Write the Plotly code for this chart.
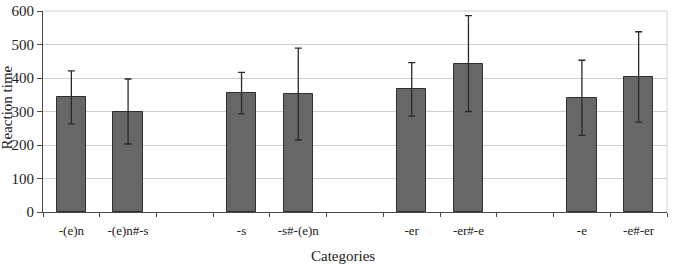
import plotly.graph_objects as go

categories = ["-(e)n", "-(e)n#-s", "", "-s", "-s#-(e)n", "", "-er", "-er#-e", "", "-e", "-e#-er"]
means = [342, 300, None, 355, 352, None, 366, 443, None, 341, 403]
errors = [79, 97, None, 62, 137, None, 80, 143, None, 112, 135]

positions = list(range(len(categories)))
bar_x = [p for p, m in zip(positions, means) if m is not None]
bar_y = [m for m in means if m is not None]
bar_err = [e for e in errors if e is not None]

SERIF = "Liberation Serif, Times New Roman, DejaVu Serif, serif"

fig = go.Figure()
fig.add_trace(go.Bar(
    x=bar_x, y=bar_y, width=0.52,
    marker=dict(color="#676767", line=dict(color="#2e2e2e", width=1)),
    error_y=dict(type="data", array=bar_err, visible=True,
                 color="#2a2a2a", thickness=1.3, width=3.5),
    showlegend=False,
))

fig.update_layout(
    width=681, height=264,
    margin=dict(l=43, r=14, t=3, b=52),
    plot_bgcolor="white", paper_bgcolor="white",
    font=dict(family=SERIF, color="#222222"),
    bargap=0,
    xaxis=dict(
        range=[-0.5, len(categories) - 0.5],
        tickmode="array", tickvals=positions, ticktext=categories,
        ticks="", showgrid=False, zeroline=False,
        showline=True, linecolor="#4a4a4a", linewidth=1,
        tickfont=dict(family=SERIF, size=13, color="#222222"),
        ticklabelstandoff=6,
        minor=dict(tick0=-0.5, dtick=1, ticks="outside", ticklen=4,
                   tickcolor="#4a4a4a", tickwidth=1, showgrid=False),
    ),
    yaxis=dict(
        range=[0, 600], tickmode="linear", tick0=0, dtick=100,
        ticks="outside", ticklen=5, tickcolor="#4a4a4a",
        showgrid=True, gridcolor="#cfcfcf", gridwidth=1,
        zeroline=False, showline=True, linecolor="#4a4a4a", linewidth=1,
        tickfont=dict(family=SERIF, size=15, color="#222222"),
        ticklabeloverflow="allow",
    ),
    shapes=[
        dict(type="line", xref="paper", yref="paper", x0=1, x1=1, y0=0, y1=1,
             line=dict(color="#d0d0d0", width=1)),
        dict(type="line", xref="paper", yref="paper", x0=0, x1=1, y0=1, y1=1,
             line=dict(color="#cfcfcf", width=1)),
    ],
    annotations=[
        dict(text="Categories", xref="paper", yref="paper", x=(343 - 43) / 624, y=0,
             xanchor="center", yanchor="middle", yshift=-44, showarrow=False,
             font=dict(family=SERIF, size=15, color="#222222")),
        dict(text="Reaction time", xref="paper", yref="paper", x=0, y=0.52,
             xanchor="center", yanchor="middle", xshift=-36, textangle=-90,
             showarrow=False, font=dict(family=SERIF, size=15, color="#222222")),
    ],
)

fig.write_html("out.html")
